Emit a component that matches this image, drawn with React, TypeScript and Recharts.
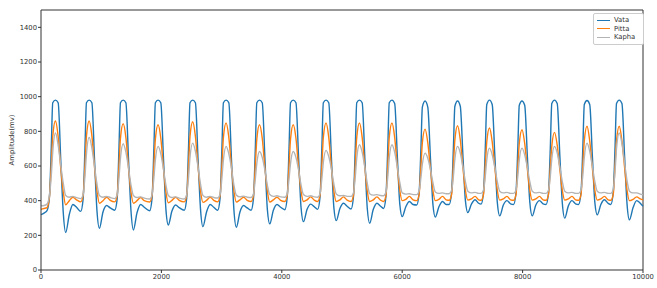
import { LineChart, Line, XAxis, YAxis, ReferenceLine } from 'recharts';

// sample positions (ms) and amplitudes (mV)
const xs = [
  0, 50,
  100, 140, 170, 195, 240, 285, 330, 370, 410, 470, 530, 590,
  660, 700, 730, 755, 800, 845, 890, 930, 970, 1030, 1090, 1150,
  1225, 1265, 1295, 1320, 1365, 1410, 1455, 1495, 1535, 1595, 1655, 1715,
  1805, 1845, 1875, 1900, 1945, 1990, 2035, 2075, 2115, 2175, 2235, 2295,
  2380, 2420, 2450, 2475, 2520, 2565, 2610, 2650, 2690, 2750, 2810, 2870,
  2935, 2975, 3005, 3030, 3075, 3120, 3165, 3205, 3245, 3305, 3365, 3425,
  3490, 3530, 3560, 3585, 3630, 3675, 3720, 3760, 3800, 3860, 3920, 3980,
  4050, 4090, 4120, 4145, 4190, 4235, 4280, 4320, 4360, 4420, 4480, 4540,
  4595, 4635, 4665, 4690, 4735, 4780, 4825, 4865, 4905, 4965, 5025, 5085,
  5150, 5190, 5220, 5245, 5290, 5335, 5380, 5420, 5460, 5520, 5580, 5640,
  5690, 5730, 5760, 5785, 5830, 5875, 5920, 5960, 6000, 6060, 6120, 6180,
  6240, 6280, 6310, 6335, 6380, 6425, 6470, 6510, 6550, 6610, 6670, 6730,
  6780, 6820, 6850, 6875, 6920, 6965, 7010, 7050, 7090, 7150, 7210, 7270,
  7310, 7350, 7380, 7405, 7450, 7495, 7540, 7580, 7620, 7680, 7740, 7800,
  7850, 7890, 7920, 7945, 7990, 8035, 8080, 8120, 8160, 8220, 8280, 8340,
  8390, 8430, 8460, 8485, 8530, 8575, 8620, 8660, 8700, 8760, 8820, 8880,
  8930, 8970, 9000, 9025, 9070, 9115, 9160, 9200, 9240, 9300, 9360, 9420,
  9465, 9505, 9535, 9560, 9605, 9650, 9695, 9735, 9775, 9835, 9895, 9955,
  10000,
];

const vata = [
  320, 328,
  342, 420, 700, 965, 980, 965, 620, 330, 216, 320, 378, 362,
  338, 410, 700, 965, 980, 965, 630, 340, 241, 335, 372, 358,
  345, 410, 700, 965, 980, 965, 630, 340, 231, 330, 378, 362,
  342, 415, 700, 965, 980, 965, 640, 350, 260, 340, 375, 360,
  345, 415, 700, 965, 980, 965, 630, 350, 250, 335, 378, 362,
  345, 415, 700, 965, 980, 965, 630, 345, 247, 335, 372, 358,
  345, 415, 700, 965, 980, 965, 640, 350, 266, 345, 378, 362,
  348, 420, 700, 965, 980, 965, 640, 360, 279, 350, 380, 365,
  350, 420, 700, 965, 980, 965, 640, 360, 285, 355, 385, 368,
  352, 420, 700, 965, 980, 965, 640, 355, 270, 350, 385, 368,
  355, 425, 700, 965, 980, 960, 650, 380, 308, 365, 395, 378,
  375, 440, 690, 940, 975, 940, 640, 380, 305, 365, 395, 378,
  378, 445, 700, 945, 975, 945, 650, 400, 331, 380, 405, 385,
  380, 445, 700, 955, 980, 955, 650, 390, 312, 375, 400, 382,
  378, 445, 700, 950, 975, 950, 650, 390, 312, 375, 400, 382,
  378, 445, 700, 960, 980, 960, 650, 385, 299, 370, 400, 382,
  378, 445, 700, 955, 978, 955, 650, 390, 318, 378, 405, 385,
  378, 445, 700, 960, 980, 960, 650, 380, 289, 360, 400, 385,
  368,
];

const pitta = [
  350, 355,
  360, 420, 600, 770, 860, 770, 580, 450, 376, 400, 420, 405,
  393, 430, 600, 770, 860, 775, 590, 455, 385, 400, 420, 402,
  393, 430, 600, 760, 844, 765, 585, 450, 385, 400, 418, 400,
  392, 430, 600, 755, 838, 760, 585, 450, 388, 402, 420, 402,
  393, 430, 600, 770, 855, 770, 590, 455, 390, 402, 420, 402,
  393, 430, 600, 765, 848, 765, 590, 455, 392, 405, 420, 402,
  395, 430, 600, 755, 838, 760, 585, 455, 392, 405, 420, 402,
  395, 430, 600, 755, 838, 760, 585, 455, 395, 405, 422, 403,
  395, 430, 600, 765, 848, 765, 590, 455, 395, 405, 422, 403,
  395, 430, 600, 765, 848, 765, 590, 455, 395, 405, 422, 403,
  395, 430, 600, 765, 848, 765, 590, 460, 400, 408, 425, 405,
  400, 435, 590, 735, 813, 735, 580, 460, 400, 408, 425, 405,
  402, 435, 600, 750, 832, 750, 585, 460, 403, 410, 425, 405,
  402, 435, 600, 740, 819, 740, 585, 460, 403, 410, 425, 405,
  402, 435, 595, 730, 809, 730, 580, 460, 403, 410, 425, 405,
  402, 435, 590, 715, 794, 720, 575, 460, 403, 410, 425, 405,
  402, 435, 600, 745, 829, 745, 585, 460, 403, 410, 425, 405,
  402, 435, 600, 745, 829, 745, 590, 460, 400, 408, 422, 410,
  405,
];

const kapha = [
  370, 372,
  380, 430, 540, 680, 790, 720, 600, 500, 430, 420, 425, 418,
  412, 435, 540, 670, 765, 705, 595, 495, 430, 420, 425, 418,
  412, 435, 530, 645, 728, 680, 585, 490, 430, 418, 422, 415,
  410, 435, 530, 635, 713, 670, 580, 490, 430, 418, 422, 415,
  410, 435, 530, 650, 732, 685, 590, 495, 430, 420, 425, 418,
  415, 435, 530, 635, 713, 670, 585, 490, 432, 422, 426, 420,
  418, 440, 525, 615, 684, 650, 575, 490, 435, 425, 428, 422,
  420, 440, 525, 615, 684, 650, 575, 490, 435, 425, 428, 422,
  420, 440, 525, 620, 690, 655, 580, 495, 438, 428, 430, 425,
  425, 445, 535, 645, 723, 680, 590, 500, 440, 432, 435, 430,
  428, 448, 535, 645, 723, 680, 590, 505, 445, 438, 440, 435,
  435, 455, 530, 610, 674, 645, 580, 505, 450, 442, 445, 440,
  440, 458, 540, 640, 713, 675, 590, 510, 455, 445, 448, 442,
  442, 460, 540, 635, 703, 665, 590, 510, 455, 445, 448, 442,
  442, 460, 540, 635, 703, 665, 590, 510, 455, 445, 448, 442,
  442, 460, 540, 640, 713, 675, 590, 510, 455, 445, 448, 442,
  442, 460, 545, 650, 732, 685, 595, 510, 455, 445, 448, 442,
  442, 465, 565, 700, 790, 730, 615, 515, 455, 445, 445, 438,
  433,
];

const xTicks = [0, 2000, 4000, 6000, 8000, 10000];
const yTicks = [0, 200, 400, 600, 800, 1000, 1200, 1400];

const series = [
  { key: 'Vata', color: '#1f77b4' },
  { key: 'Pitta', color: '#ff7f0e' },
  { key: 'Kapha', color: '#b4b4b4' },
];

const data = xs.map((x, i) => ({ x, Vata: vata[i], Pitta: pitta[i], Kapha: kapha[i] }));

const font = 'DejaVu Sans, sans-serif';
const tickStyle = { fill: '#333', fontSize: 6.8, fontFamily: font };

function LegendBox() {
  return (
    <div style={{ position: 'absolute', left: 593, top: 13, border: '1px solid #ccc', borderRadius: 2, background: '#fff', padding: '2px 8px 2px 3px', fontFamily: font, fontSize: 6.8, color: '#333' }}>
      {series.map(s => (
        <div key={s.key} style={{ display: 'flex', alignItems: 'center', height: 8.5 }}>
          <span style={{ display: 'inline-block', width: 13, height: 0, borderTop: `1.4px solid ${s.color}`, marginRight: 4 }} />
          <span>{s.key}</span>
        </div>
      ))}
    </div>
  );
}

export default function App() {
  return (
    <div style={{ position: 'absolute', left: 0, top: 0, width: 657, height: 288, background: '#fff' }}>
      <LineChart width={657} height={288} data={data} margin={{ top: 10, right: 14, left: 0, bottom: 0 }}>
        <XAxis
          dataKey="x"
          type="number"
          domain={[0, 10000]}
          ticks={xTicks}
          tick={tickStyle}
          tickSize={3}
          tickMargin={1}
          height={18}
          axisLine={{ stroke: '#333' }}
          tickLine={{ stroke: '#333' }}
        />
        <YAxis
          type="number"
          domain={[0, 1500]}
          ticks={yTicks}
          tick={tickStyle}
          tickSize={3}
          tickMargin={1}
          width={41}
          axisLine={{ stroke: '#333' }}
          tickLine={{ stroke: '#333' }}
          label={{ value: 'Amplitude(mv)', angle: -90, position: 'insideLeft', offset: 12, style: { ...tickStyle, textAnchor: 'middle' } }}
        />
        <ReferenceLine y={1500} stroke="#333" />
        <ReferenceLine x={10000} stroke="#333" />
        {series.map(s => (
          <Line
            key={s.key}
            dataKey={s.key}
            type="monotone"
            stroke={s.color}
            strokeWidth={1.4}
            dot={false}
            isAnimationActive={false}
          />
        ))}
      </LineChart>
      <LegendBox />
    </div>
  );
}
